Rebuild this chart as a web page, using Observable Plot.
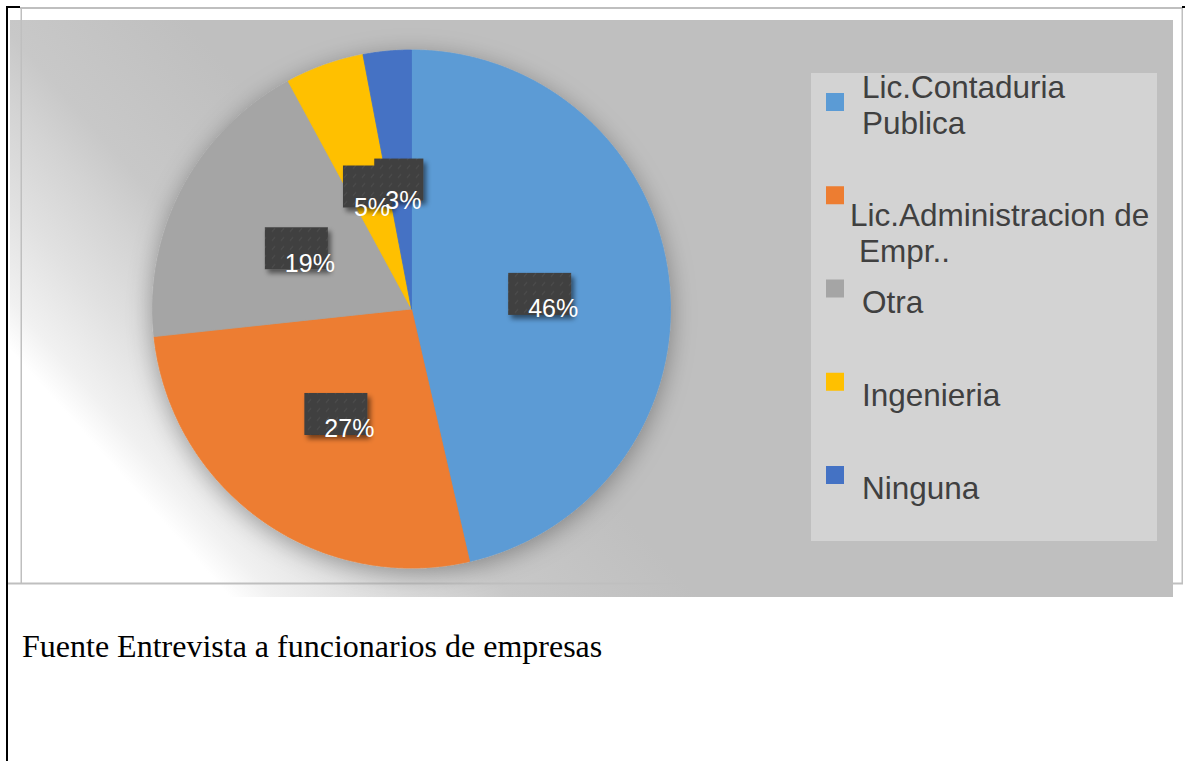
<!DOCTYPE html>
<html>
<head>
<meta charset="utf-8">
<script src="https://cdn.jsdelivr.net/npm/d3@7"></script>
<script src="https://cdn.jsdelivr.net/npm/@observablehq/plot@0.6"></script>
<style>
  html, body { margin: 0; padding: 0; background: #fff; }
  #wrap { position: relative; width: 1185px; height: 761px; overflow: hidden; }
  #wrap > svg { position: absolute; left: 0; top: 0; }
</style>
</head>
<body>
<div id="wrap">
  <svg id="bg" width="1185" height="761"></svg>
  <div id="chart"></div>
  <svg id="legend" width="1185" height="761"></svg>
</div>
<script>
// ---- data ----
const categories = ["Lic.Contaduria Publica", "Lic.Administracion de Empr..", "Otra", "Ingenieria", "Ninguna"];
const values = [46.4, 26.9, 18.8, 4.9, 3.0];
const colors = ["#5B9BD5", "#ED7D31", "#A5A5A5", "#FFC000", "#4472C4"];
const legendLines = [["Lic.Contaduria", "Publica"], ["Lic.Administracion de", "Empr.."], ["Otra"], ["Ingenieria"], ["Ninguna"]];
const caption = "Fuente Entrevista a funcionarios de empresas";

// ---- geometry ----
const W = 1185, H = 600, R = 259, CX = 411, CY = 308.5;
const total = d3.sum(values);

// slice polygons (angles measured clockwise from 12 o'clock)
const slices = [];
let cum = 0;
values.forEach((v, i) => {
  const a0 = cum / total * 2 * Math.PI;
  cum += v;
  const a1 = cum / total * 2 * Math.PI;
  const pts = [{cat: categories[i], x: 0, y: 0}];
  const n = Math.max(2, Math.ceil((a1 - a0) / (Math.PI / 720)));
  for (let k = 0; k <= n; k++) {
    const a = a0 + (a1 - a0) * k / n;
    pts.push({cat: categories[i], x: Math.sin(a), y: Math.cos(a)});
  }
  pts.push({cat: categories[i], x: 0, y: 0});
  slices.push(...pts);
});

// label boxes at half radius, mid angle
const labels = [];
cum = 0;
values.forEach((v, i) => {
  const mid = (cum + v / 2) / total * 2 * Math.PI;
  cum += v;
  const text = Math.round(v) + "%";
  const wide = text.length > 2;
  const wpx = 13 + 25 * (0.556 * (text.length - 1) + 0.889);
  const cx = 0.5 * Math.sin(mid), cy = 0.5 * Math.cos(mid);
  labels.push({
    text, cx, cy,
    x1: cx - wpx / 2 / R, x2: cx + wpx / 2 / R,
    y1: cy - 21 / R, y2: cy + 21 / R,
    tx: cx + (wide ? 13 : 4) / R, ty: cy - (wide ? 15 : 21) / R
  });
});

// ---- background (panel + page borders + caption) ----
const bg = d3.select("#bg");
const defsBg = bg.append("defs");
const lg = defsBg.append("linearGradient").attr("id", "panelGrad")
  .attr("gradientUnits", "userSpaceOnUse")
  .attr("x1", 10).attr("y1", 350).attr("x2", 272).attr("y2", 117);
[[0, "#ffffff"], [0.094, "#f1f1f1"], [0.28, "#e1e1e1"], [0.47, "#d3d3d3"], [0.6, "#c8c8c8"], [1, "#bfbfbf"]]
  .forEach(([o, c]) => lg.append("stop").attr("offset", o).attr("stop-color", c));
bg.append("rect").attr("x", 10).attr("y", 20).attr("width", 1163).attr("height", 577).attr("fill", "url(#panelGrad)");
// borders
bg.append("rect").attr("x", 20).attr("y", 7).attr("width", 1163).attr("height", 2).attr("fill", "#bfbfbf");
bg.append("rect").attr("x", 20.5).attr("y", 8).attr("width", 1.5).attr("height", 575).attr("fill", "#bfbfbf");
bg.append("rect").attr("x", 1181.5).attr("y", 8).attr("width", 1.5).attr("height", 575).attr("fill", "#bfbfbf");
bg.append("rect").attr("x", 7).attr("y", 582.5).attr("width", 1176).attr("height", 2).attr("fill", "#bfbfbf");
bg.append("rect").attr("x", 6).attr("y", 6).attr("width", 2).attr("height", 755).attr("fill", "#000");
bg.append("rect").attr("x", 6).attr("y", 6).attr("width", 14).attr("height", 2).attr("fill", "#000");
bg.append("rect").attr("x", 1182).attr("y", 6).attr("width", 3).attr("height", 2).attr("fill", "#000");
bg.append("text").attr("x", 22).attr("y", 657)
  .attr("font-family", "'Liberation Serif', 'Times New Roman', serif").attr("font-size", 32)
  .attr("fill", "#000").text(caption);

// ---- pie with Plot ----
const plot = Plot.plot({
  width: W, height: H,
  marginTop: 0, marginRight: 0, marginBottom: 0, marginLeft: 0,
  style: {background: "transparent", overflow: "visible"},
  x: {domain: [-CX / R, (W - CX) / R], range: [0, W], axis: null},
  y: {domain: [-(H - CY) / R, CY / R], range: [H, 0], axis: null},
  color: {domain: categories, range: colors},
  marks: [
    Plot.line(slices, {x: "x", y: "y", z: "cat", fill: "cat", stroke: "cat", strokeWidth: 0.8, curve: "linear"}),
    Plot.rect(labels, {x1: "x1", x2: "x2", y1: "y1", y2: "y2", fill: "#404040"}),
    Plot.text(labels, {x: "tx", y: "ty", text: "text", fill: "white", fontSize: 25,
      fontFamily: "'Liberation Sans', Arial, sans-serif", textAnchor: "middle"})
  ]
});
plot.style.position = "absolute";
plot.style.left = "0px";
plot.style.top = "0px";
document.getElementById("chart").appendChild(plot);

const svg = d3.select(plot);
const defs = svg.insert("defs", ":first-child");
const f1 = defs.append("filter").attr("id", "pieShadow")
  .attr("x", "-25%").attr("y", "-25%").attr("width", "150%").attr("height", "150%");
f1.append("feGaussianBlur").attr("in", "SourceAlpha").attr("stdDeviation", 12);
f1.append("feOffset").attr("dx", 0).attr("dy", 5).attr("result", "b");
f1.append("feFlood").attr("flood-color", "#000").attr("flood-opacity", 0.33);
f1.append("feComposite").attr("in2", "b").attr("operator", "in");
const m1 = f1.append("feMerge");
m1.append("feMergeNode");
m1.append("feMergeNode").attr("in", "SourceGraphic");

const f2 = defs.append("filter").attr("id", "boxShadow")
  .attr("x", "-30%").attr("y", "-30%").attr("width", "160%").attr("height", "160%");
f2.append("feGaussianBlur").attr("in", "SourceAlpha").attr("stdDeviation", 2.5);
f2.append("feOffset").attr("dx", 3).attr("dy", 4).attr("result", "b");
f2.append("feFlood").attr("flood-color", "#000").attr("flood-opacity", 0.5);
f2.append("feComposite").attr("in2", "b").attr("operator", "in");
const m2 = f2.append("feMerge");
m2.append("feMergeNode");
m2.append("feMergeNode").attr("in", "SourceGraphic");

const pat = defs.append("pattern").attr("id", "boxTex").attr("patternUnits", "userSpaceOnUse")
  .attr("width", 9).attr("height", 9);
pat.append("rect").attr("width", 9).attr("height", 9).attr("fill", "#3f3f3f");
pat.append("path").attr("d", "M2,7 L5,3").attr("stroke", "#4a4a4a").attr("stroke-width", 1.4);

svg.selectAll('g[aria-label="line"]').attr("filter", "url(#pieShadow)");
svg.selectAll('g[aria-label="rect"] rect').attr("fill", "url(#boxTex)");
svg.selectAll('g[aria-label="rect"]').attr("filter", "url(#boxShadow)");

// ---- legend ----
const leg = d3.select("#legend");
leg.append("rect").attr("x", 811).attr("y", 73).attr("width", 346).attr("height", 468).attr("fill", "#d3d3d3");
const legendFont = "'Liberation Sans', Arial, sans-serif";
categories.forEach((c, i) => {
  const top = 93 + i * 93.25;
  leg.append("rect").attr("x", 826).attr("y", top).attr("width", 18).attr("height", 18).attr("fill", colors[i]);
  const lines = legendLines[i];
  let pos;
  if (i === 0) pos = [[862, top + 5], [862, top + 41]];
  else if (i === 1) pos = [[850, top + 40], [859, top + 76]];
  else pos = [[862, top + 33]];
  lines.forEach((t, k) => {
    leg.append("text").attr("x", pos[k][0]).attr("y", pos[k][1])
      .attr("font-family", legendFont).attr("font-size", 31.5).attr("fill", "#404040").text(t);
  });
});
</script>
</body>
</html>
